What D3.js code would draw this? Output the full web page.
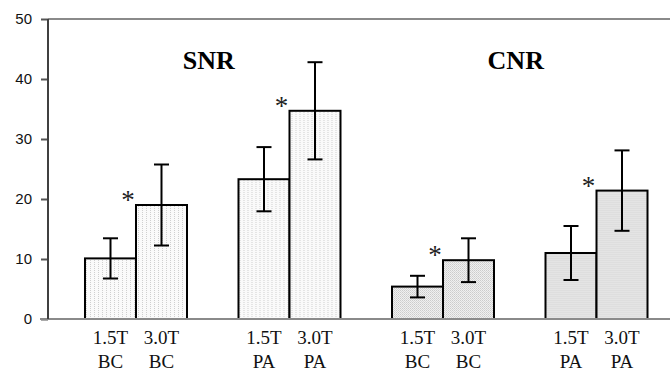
<!DOCTYPE html>
<html>
<head>
<meta charset="utf-8">
<script src="https://cdn.jsdelivr.net/npm/d3@7"></script>
<style>
  html, body { margin: 0; padding: 0; background: #fff; }
  svg { display: block; }
</style>
</head>
<body>
<div id="chart"></div>
<script>
// ---- data ----
const groups = ["SNR_BC", "SNR_PA", "CNR_BC", "CNR_PA"];
const fields = ["1.5T", "3.0T"];
const groupSite = ["BC", "PA", "BC", "PA"];
const groupMetric = ["SNR", "SNR", "CNR", "CNR"];
const means15 = [10.1, 23.3, 5.4, 11.0];
const means30 = [19.0, 34.7, 9.8, 21.4];
const err15 = [3.35, 5.35, 1.8, 4.5];
const err30 = [6.75, 8.1, 3.65, 6.7];
const yTicks = [0, 10, 20, 30, 40, 50];
const titles = ["SNR", "CNR"];

const W = 670, H = 372;
const svg = d3.select("#chart").append("svg").attr("width", W).attr("height", H);

// patterns
const defs = svg.append("defs");
const p1 = defs.append("pattern").attr("id", "snrFill").attr("patternUnits", "userSpaceOnUse")
  .attr("width", 4).attr("height", 2);
p1.append("rect").attr("width", 4).attr("height", 2).attr("fill", "#fafafa");
p1.append("rect").attr("x", 1).attr("y", 0).attr("width", 1).attr("height", 1).attr("fill", "#cfcfcf");
const p2 = defs.append("pattern").attr("id", "cnrFill").attr("patternUnits", "userSpaceOnUse")
  .attr("width", 2).attr("height", 2);
p2.append("rect").attr("width", 2).attr("height", 2).attr("fill", "#f0f0f0");
p2.append("rect").attr("x", 0).attr("y", 0).attr("width", 1).attr("height", 1).attr("fill", "#cccccc");
p2.append("rect").attr("x", 1).attr("y", 1).attr("width", 1).attr("height", 1).attr("fill", "#d8d8d8");

const y = d3.scaleLinear().domain([0, 50]).range([319, 19]);
const x0 = d3.scaleBand().domain(groups).range([48, 684.5]).paddingInner(0.3355).paddingOuter(0.241);
const x1 = d3.scaleBand().domain(fields).range([0, x0.bandwidth()]);

const rows = groups.map((g, i) => ({
  g, i, metric: groupMetric[i], site: groupSite[i],
  vals: [
    { f: "1.5T", v: means15[i], e: err15[i] },
    { f: "3.0T", v: means30[i], e: err30[i] }
  ]
}));

// top frame line
svg.append("line").attr("x1", 48).attr("x2", W).attr("y1", y(50)).attr("y2", y(50))
  .attr("stroke", "#8a8a8a").attr("stroke-width", 2);

// y axis
const yAxis = d3.axisLeft(y).tickValues(yTicks).tickSize(7).tickPadding(9).tickFormat(d3.format("d"));
const ya = svg.append("g").attr("transform", "translate(48,0)").call(yAxis);
ya.select(".domain").attr("stroke", "#404040").attr("stroke-width", 2).attr("d", `M0,${y(50)}V${y(0)}`);
ya.selectAll(".tick line").attr("stroke", "#555").attr("stroke-width", 2);
ya.selectAll(".tick text").attr("font-family", "Liberation Sans, Arial, sans-serif")
  .attr("font-size", 15).attr("fill", "#111");

// bars
const gg = svg.selectAll(".grp").data(rows).enter().append("g")
  .attr("transform", d => `translate(${x0(d.g)},0)`);

gg.selectAll("rect").data(d => d.vals.map(v => Object.assign({ metric: d.metric }, v))).enter().append("rect")
  .attr("x", d => x1(d.f))
  .attr("width", x1.bandwidth())
  .attr("y", d => y(d.v))
  .attr("height", d => y(0) - y(d.v))
  .attr("fill", d => d.metric === "SNR" ? "url(#snrFill)" : "url(#cnrFill)")
  .attr("stroke", "#000").attr("stroke-width", 2);

// bottom axis line
svg.append("line").attr("x1", 40).attr("x2", W).attr("y1", y(0)).attr("y2", y(0))
  .attr("stroke", "#8a8a8a").attr("stroke-width", 2);
svg.append("line").attr("x1", 48).attr("x2", 48).attr("y1", y(50)).attr("y2", y(0))
  .attr("stroke", "#404040").attr("stroke-width", 2);

// error bars
const eb = gg.selectAll(".eb").data(d => d.vals).enter().append("g")
  .attr("transform", d => `translate(${x1(d.f) + x1.bandwidth() / 2},0)`);
eb.append("line").attr("x1", 0).attr("x2", 0)
  .attr("y1", d => y(d.v + d.e)).attr("y2", d => y(d.v - d.e))
  .attr("stroke", "#000").attr("stroke-width", 2);
eb.append("line").attr("x1", -7.5).attr("x2", 7.5)
  .attr("y1", d => y(d.v + d.e)).attr("y2", d => y(d.v + d.e))
  .attr("stroke", "#000").attr("stroke-width", 2);
eb.append("line").attr("x1", -7.5).attr("x2", 7.5)
  .attr("y1", d => y(d.v - d.e)).attr("y2", d => y(d.v - d.e))
  .attr("stroke", "#000").attr("stroke-width", 2);

// asterisks
gg.append("text")
  .attr("x", d => x1("3.0T") - 8)
  .attr("y", d => y(d.vals[1].v) + 4)
  .attr("text-anchor", "middle")
  .attr("font-family", "Liberation Serif, Times New Roman, serif")
  .attr("font-size", 27).attr("fill", "#222")
  .text("*");

// category labels
const lab = gg.selectAll(".lab").data(d => d.vals.map(v => ({ f: v.f, site: d.site }))).enter().append("text")
  .attr("x", d => x1(d.f) + x1.bandwidth() / 2)
  .attr("text-anchor", "middle")
  .attr("font-family", "Liberation Serif, Times New Roman, serif")
  .attr("font-size", 19).attr("fill", "#111");
lab.append("tspan").attr("x", d => x1(d.f) + x1.bandwidth() / 2).attr("y", 344).text(d => d.f);
lab.append("tspan").attr("x", d => x1(d.f) + x1.bandwidth() / 2).attr("y", 368).text(d => d.site);

// titles
const titleX = [
  (x0("SNR_BC") + x0("SNR_PA") + x0.bandwidth()) / 2,
  (x0("CNR_BC") + x0("CNR_PA") + x0.bandwidth()) / 2
];
svg.selectAll(".ttl").data(titles).enter().append("text")
  .attr("x", (d, i) => titleX[i] - 4)
  .attr("y", 69)
  .attr("text-anchor", "middle")
  .attr("font-family", "Liberation Serif, Times New Roman, serif")
  .attr("font-weight", "bold")
  .attr("font-size", 26).attr("fill", "#000")
  .text(d => d);
</script>
</body>
</html>
